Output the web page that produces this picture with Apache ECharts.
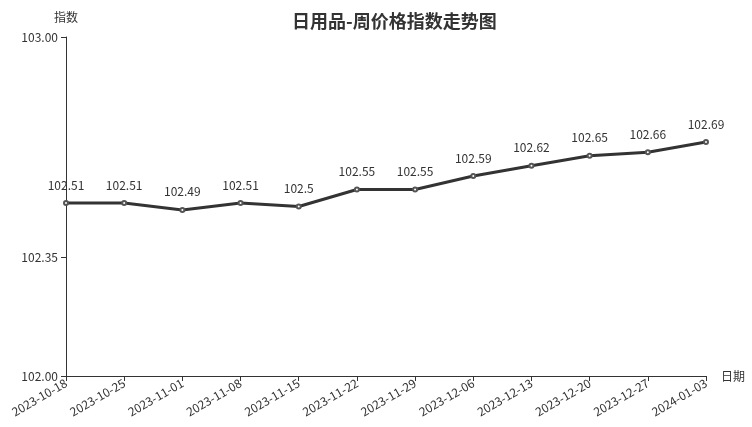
<!DOCTYPE html>
<html>
<head>
<meta charset="utf-8">
<script src="https://cdn.jsdelivr.net/npm/echarts@6/dist/echarts.min.js"></script>
<style>html,body{margin:0;padding:0;background:#fff;}#c{width:752px;height:427px;}</style>
</head>
<body>
<div id="c"></div>
<script>
const categories = ['2023-10-18','2023-10-25','2023-11-01','2023-11-08','2023-11-15','2023-11-22','2023-11-29','2023-12-06','2023-12-13','2023-12-20','2023-12-27','2024-01-03'];
const values = [102.51,102.51,102.49,102.51,102.5,102.55,102.55,102.59,102.62,102.65,102.66,102.69];
const yTicks = [102, 102.35, 103];
const font = '"Noto Sans CJK SC", "Noto Sans", sans-serif';
const chart = echarts.init(document.getElementById('c'), null, {renderer:'canvas'});
chart.setOption({
  animation: false,
  backgroundColor: '#fff',
  textStyle: {fontFamily: font},
  title: {
    text: '日用品-周价格指数走势图',
    left: 287, top: 7,
    textStyle: {fontSize: 18, fontWeight: 'bold', color: '#333', fontFamily: font}
  },
  grid: {left: 66, right: 46, top: 37, bottom: 51, containLabel: false},
  xAxis: {
    type: 'category',
    data: categories,
    boundaryGap: false,
    name: '日期',
    nameGap: 15,
    nameTextStyle: {color: '#333', fontSize: 12, fontFamily: font},
    axisLine: {lineStyle: {color: '#333'}},
    axisTick: {alignWithLabel: true, lineStyle: {color: '#333'}},
    axisLabel: {rotate: 30, color: '#333', fontSize: 12, interval: 0, margin: 6, fontFamily: font}
  },
  yAxis: {
    type: 'value',
    min: 102, max: 103,
    name: '指数',
    nameGap: 14,
    nameTextStyle: {color: '#333', fontSize: 12, fontFamily: font},
    axisLine: {show: true, lineStyle: {color: '#333'}},
    axisTick: {show: true, customValues: yTicks, lineStyle: {color: '#333'}},
    axisLabel: {customValues: yTicks, color: '#333', fontSize: 12, fontFamily: font,
      formatter: v => v.toFixed(2)},
    splitLine: {show: false}
  },
  series: [{
    type: 'line',
    data: values,
    symbol: 'emptyCircle',
    symbolSize: 4,
    lineStyle: {color: '#333', width: 3},
    itemStyle: {color: '#555', borderWidth: 1},
    label: {show: true, position: 'top', distance: 9, color: '#333', fontSize: 12, fontFamily: font}
  }]
});
</script>
</body>
</html>
